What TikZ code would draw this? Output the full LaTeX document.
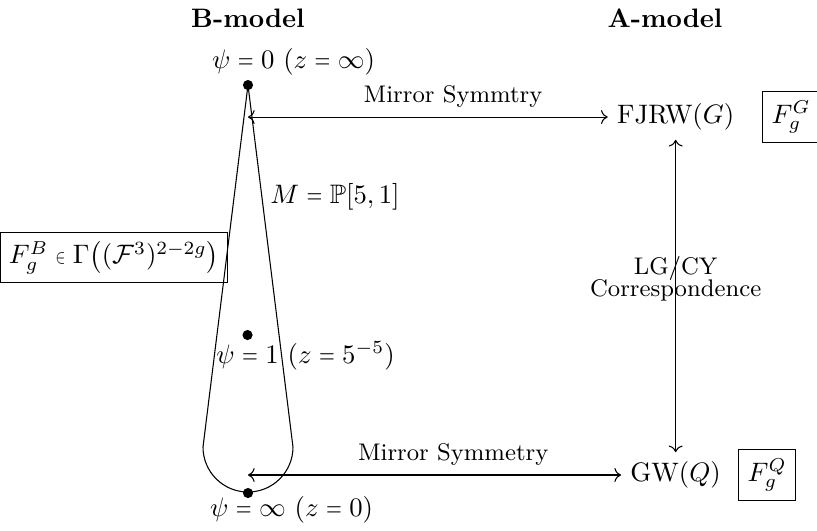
\documentclass[tikz,border=0pt]{standalone}
\usepackage{amsmath,amssymb,amsfonts}
\usepackage{xcolor}
\usepackage{tikz}
\usetikzlibrary{arrows.meta,positioning,calc}
\newcommand{\shorteq}{\mathrel{\scalebox{0.76}[1]{$=$}}}
\newcommand{\smallin}{\mathrel{\scalebox{0.55}[0.75]{$\in$}}}

\begin{document}
\begin{tikzpicture}[
  dot/.style={circle,fill,inner sep=0pt,minimum size=3.8pt},
  box/.style={draw,inner sep=3.3pt},
  arrow/.style={<->},
  lbl/.style={font=\small,above},
]
\useasboundingbox (0,0) rectangle (10.75,6.974);
\node[font=\bfseries,anchor=base] (bm) at (3.263,6.618) {B-model};
\node[font=\bfseries,anchor=base] (am) at (8.750,6.618) {A-model};
\node[dot] (top) at (3.263,5.855) {};
\node[dot] (mid) at (3.257,2.566) {};
\node[dot] (bot) at (3.263,0.487) {};
\draw (top.center) -- (2.671,1.092) arc[start angle=180,end angle=360,radius=0.592] -- cycle;
\node[anchor=base] (t0) at (3.862,6.079) {$\psi\shorteq0\ (z\shorteq\infty)$};
\node[anchor=base] (t1) at (4.02,2.197) {$\psi\shorteq1\ (z\shorteq5^{-5})$};
\node[anchor=base] (t2) at (3.836,0.184) {$\psi\shorteq\infty\ (z\shorteq0)$};
\node[anchor=base west] (mm) at (3.434,4.303) {$M\shorteq\mathbb{P}[5,1]$};
\node[box] (fb) at (1.50,3.586) {$F_g^B\smallin\Gamma\bigl((\mathcal{F}^3)^{2-2g}\bigr)$};
\node (fjrw) at (8.89,5.434) {FJRW$(G)$};
\node[box,right=7pt of fjrw] (fg) {$F_g^G$};
\node (gw) at (8.89,0.724) {GW$(Q)$};
\node[box,right=3pt of gw] (fq) {$F_g^Q$};
\coordinate (u) at (3.263,5.434);
\coordinate (d) at (3.263,0.724);
\draw[arrow] (u) -- node[lbl,pos=0.57] (ms1) {Mirror Symmtry} (fjrw);
\draw[arrow] (d) -- node[lbl,pos=0.55] (ms2) {Mirror Symmetry} (gw);
\draw[arrow] (fjrw) -- node[font=\small,align=center,pos=0.445] (lc) {LG/CY\\[-3pt]Correspondence} (gw);
\end{tikzpicture}
\end{document}
